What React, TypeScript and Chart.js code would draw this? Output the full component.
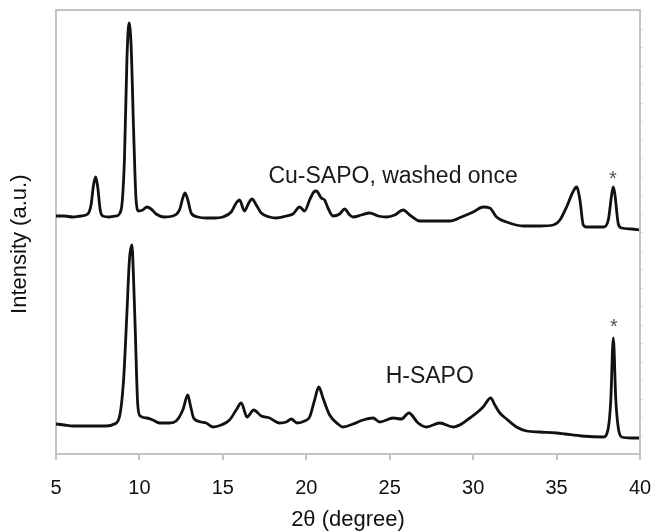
import React, { useEffect, useRef } from "react";
import { Chart, registerables } from "chart.js";

Chart.register(...registerables);

// 2θ positions and intensities (a.u.)
const cuX = [5.0, 5.5, 6.0, 6.5, 6.9, 7.1, 7.25, 7.38, 7.5, 7.65, 7.8, 8.2, 8.6, 8.9, 9.1, 9.25, 9.37, 9.5, 9.65, 9.8, 9.95, 10.2, 10.45, 10.7, 11.0, 11.5, 12.0, 12.4, 12.6, 12.73, 12.9, 13.1, 13.5, 14.0, 14.5, 15.0, 15.5, 15.8, 16.0, 16.3, 16.55, 16.75, 17.0, 17.3, 17.8, 18.2, 18.8, 19.2, 19.6, 19.9, 20.2, 20.45, 20.6, 20.9, 21.1, 21.3, 21.6, 22.0, 22.3, 22.6, 22.8, 23.3, 23.8, 24.3, 24.8, 25.3, 25.8, 26.2, 26.8, 27.5, 28.6, 29.3, 30.0, 30.6, 31.0, 31.4, 32.0, 33.0, 34.0, 34.8, 35.2, 35.6, 35.95, 36.2, 36.4, 36.6, 36.8, 37.8, 38.1, 38.3, 38.4, 38.5, 38.7, 38.9, 39.5, 40.0];
const cuY = [238, 238, 237, 238, 240, 249, 269, 277, 267, 244, 238, 237, 238, 244, 294, 394, 431, 409, 324, 254, 243, 244, 247, 245, 240, 237, 238, 244, 256, 261, 254, 241, 237, 236, 236, 237, 242, 251, 254, 243, 251, 255, 249, 241, 237, 236, 238, 240, 247, 243, 254, 262, 263, 256, 254, 246, 238, 240, 245, 239, 237, 239, 241, 238, 237, 239, 244, 239, 233, 233, 233, 237, 242, 247, 246, 237, 232, 228, 228, 229, 234, 247, 261, 267, 254, 229, 227, 227, 234, 259, 267, 259, 230, 226, 225, 224];

const hX = [5.0, 5.5, 6.0, 7.0, 8.0, 8.5, 8.8, 9.05, 9.25, 9.4, 9.55, 9.65, 9.75, 9.9, 10.05, 10.45, 10.8, 11.2, 11.8, 12.2, 12.6, 12.9, 13.05, 13.25, 13.7, 14.0, 14.4, 14.9, 15.4, 15.8, 16.1, 16.45, 16.85, 17.3, 17.8, 18.4, 18.8, 19.1, 19.45, 19.9, 20.2, 20.5, 20.75, 21.0, 21.4, 21.9, 22.2, 22.8, 23.4, 24.0, 24.4, 25.2, 25.7, 26.15, 26.7, 27.2, 28.0, 28.8, 29.3, 29.8, 30.2, 30.6, 31.05, 31.3, 31.6, 32.0, 32.6, 33.2, 34.0, 35.0, 35.5, 36.5, 37.8, 38.1, 38.25, 38.4, 38.55, 38.7, 38.9, 39.5, 40.0];
const hY = [30, 29, 28, 28, 28, 30, 37, 74, 141, 194, 209, 174, 124, 49, 38, 36, 34, 31, 31, 33, 44, 59, 49, 36, 32, 31, 27, 29, 34, 44, 51, 37, 44, 38, 36, 31, 32, 35, 31, 33, 37, 54, 67, 56, 39, 30, 27, 30, 34, 36, 32, 36, 35, 41, 31, 27, 31, 27, 30, 36, 41, 47, 56, 49, 41, 35, 27, 23, 22, 21, 20, 18, 17, 26, 54, 116, 54, 26, 17, 16, 16];

const xTickValues = [5, 10, 15, 20, 25, 30, 35, 40];

const labelTexts = ["Cu-SAPO, washed once", "H-SAPO", "*", "*"];
const labelX = [25.2, 27.4, 38.38, 38.44];
const labelY = [277, 77, 275, 127];

const FONT = "'Liberation Sans', Arial, sans-serif";

export default function App() {
  const ref = useRef<HTMLCanvasElement>(null);

  useEffect(() => {
    if (!ref.current) return;

    const framePlugin = {
      id: "frame",
      afterDraw(chart: any) {
        const { ctx, chartArea } = chart;
        const { left, right, top, bottom } = chartArea;
        ctx.save();
        ctx.strokeStyle = "#c4c4c4";
        ctx.lineWidth = 2;
        ctx.beginPath();
        ctx.moveTo(left - 1, top);
        ctx.lineTo(right, top);
        ctx.lineTo(right, bottom);
        ctx.stroke();
        // tiny tick marks on the right border
        ctx.lineWidth = 1;
        ctx.strokeStyle = "#d8d8d8";
        const n = 24;
        for (let i = 1; i < n; i++) {
          const y = Math.round(top + ((bottom - top) * i) / n) + 0.5;
          ctx.beginPath();
          ctx.moveTo(right + 1, y);
          ctx.lineTo(right + 3, y);
          ctx.stroke();
        }
        ctx.restore();
      },
    };

    const labelPlugin = {
      id: "labels",
      afterDatasetsDraw(chart: any) {
        const { ctx, scales } = chart;
        ctx.save();
        ctx.textAlign = "center";
        ctx.textBaseline = "middle";
        labelTexts.forEach((t, i) => {
          const star = t === "*";
          ctx.font = star ? `20px ${FONT}` : `23px ${FONT}`;
          ctx.fillStyle = star ? "#555" : "#1a1a1a";
          ctx.fillText(t, scales.x.getPixelForValue(labelX[i]), scales.y.getPixelForValue(labelY[i]));
        });
        ctx.restore();
      },
    };

    const chart = new Chart(ref.current, {
      type: "line",
      data: {
        datasets: [
          {
            label: "Cu-SAPO, washed once",
            data: cuX.map((x, i) => ({ x, y: cuY[i] })),
            borderColor: "#111",
            borderWidth: 2.8,
            pointRadius: 0,
            cubicInterpolationMode: "monotone",
          },
          {
            label: "H-SAPO",
            data: hX.map((x, i) => ({ x, y: hY[i] })),
            borderColor: "#111",
            borderWidth: 2.8,
            pointRadius: 0,
            cubicInterpolationMode: "monotone",
          },
        ],
      },
      options: {
        animation: false,
        responsive: false,
        maintainAspectRatio: false,
        layout: { padding: { top: 10, right: 14, bottom: 0, left: 0 } },
        plugins: { legend: { display: false }, tooltip: { enabled: false } },
        scales: {
          x: {
            type: "linear",
            min: 5,
            max: 40,
            afterBuildTicks: (s: any) => {
              s.ticks = xTickValues.map((v) => ({ value: v }));
            },
            afterFit: (s: any) => {
              s.height = 77;
              s.paddingLeft = 0;
              s.paddingRight = 0;
            },
            ticks: {
              color: "#111",
              font: { family: FONT, size: 20 },
              padding: 16,
              maxRotation: 0,
              autoSkip: false,
            },
            grid: {
              display: true,
              drawOnChartArea: false,
              drawTicks: true,
              tickLength: 6,
              color: "#c4c4c4",
              lineWidth: 2,
            },
            border: { display: true, color: "#c4c4c4", width: 2 },
            title: {
              display: true,
              text: "2θ (degree)",
              color: "#111",
              font: { family: FONT, size: 22, lineHeight: 1 },
              padding: { top: 0, bottom: 0 },
            },
          },
          y: {
            type: "linear",
            min: 0,
            max: 444,
            afterFit: (s: any) => {
              s.width = 56;
              s.paddingTop = 0;
              s.paddingBottom = 0;
            },
            ticks: { display: false },
            grid: { display: false },
            border: { display: true, color: "#c4c4c4", width: 2 },
            title: {
              display: true,
              text: "Intensity (a.u.)    ",
              color: "#111",
              font: { family: FONT, size: 22, lineHeight: 1 },
              padding: { top: 9, bottom: 0 },
            },
          },
        },
      },
      plugins: [framePlugin, labelPlugin],
    } as any);

    return () => chart.destroy();
  }, []);

  return (
    <div style={{ position: "fixed", left: 0, top: 0, width: 654, height: 531, background: "#fff" }}>
      <canvas ref={ref} width={654} height={531} style={{ display: "block" }} />
    </div>
  );
}
